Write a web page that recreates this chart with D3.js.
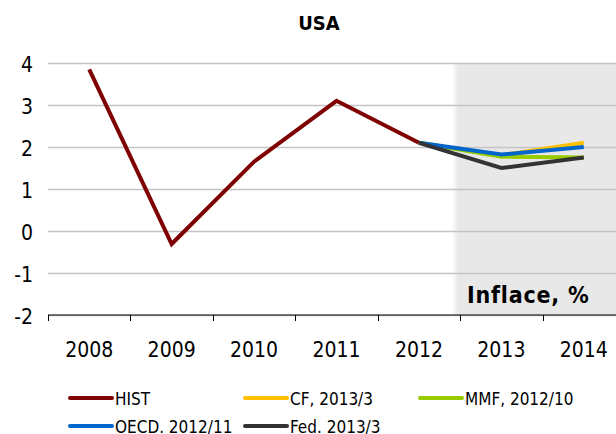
<!DOCTYPE html>
<html>
<head>
<meta charset="utf-8">
<script src="https://cdn.jsdelivr.net/npm/d3@7"></script>
<style>
  body { margin: 0; background: #fff; }
  text { font-family: "DejaVu Sans Condensed", "DejaVu Sans", sans-serif; fill: #000; }
</style>
</head>
<body>
<div id="chart"></div>
<script>
var svgWidth = 616;
var svgHeight = 434;

var years = ["2008", "2009", "2010", "2011", "2012", "2013", "2014"];
var yTicks = [-2, -1, 0, 1, 2, 3, 4];
var shadedYears = ["2013", "2014"];

// series values, null where the series has no value
var hist = [3.85, -0.31, 1.65, 3.1, 2.1, null, null];
var cf   = [null, null, null, null, 2.1, 1.8, 2.1];
var mmf  = [null, null, null, null, 2.1, 1.77, 1.75];
var oecd = [null, null, null, null, 2.1, 1.82, 2.0];
var fed  = [null, null, null, null, 2.1, 1.5, 1.75];

var seriesNames = ["HIST", "CF, 2013/3", "MMF, 2012/10", "OECD. 2012/11", "Fed. 2013/3"];
var seriesColors = ["#7f0000", "#ffc000", "#99cc00", "#0066cc", "#333333"];
var seriesData = [hist, cf, mmf, oecd, fed];

var svg = d3.select("#chart")
  .append("svg")
  .attr("width", svgWidth)
  .attr("height", svgHeight);

// plot runs past the right edge of the picture, like the original
var x = d3.scaleBand()
  .domain(years)
  .range([48, 625]);

var y = d3.scaleLinear()
  .domain([-2, 4])
  .range([315, 63]);

// grey forecast area, with a soft left edge
var defs = svg.append("defs");
var grad = defs.append("linearGradient")
  .attr("id", "fade")
  .attr("x1", 0).attr("x2", 1).attr("y1", 0).attr("y2", 0);
grad.append("stop").attr("offset", 0).attr("stop-color", "#e8e8e8").attr("stop-opacity", 0);
grad.append("stop").attr("offset", 1).attr("stop-color", "#e8e8e8").attr("stop-opacity", 1);

var shadeX = x(shadedYears[0]) - 2;
svg.append("rect")
  .attr("x", shadeX - 6)
  .attr("y", y(4))
  .attr("width", 6)
  .attr("height", y(-2) - y(4))
  .attr("fill", "url(#fade)");
svg.append("rect")
  .attr("x", shadeX)
  .attr("y", y(4))
  .attr("width", x(shadedYears[1]) + x.bandwidth() - shadeX)
  .attr("height", y(-2) - y(4))
  .attr("fill", "#e8e8e8");

// gridlines
svg.append("g")
  .attr("transform", "translate(48,0)")
  .call(d3.axisLeft(y).tickValues(yTicks).tickSize(-(625 - 48)).tickFormat(""))
  .call(g => g.select(".domain").remove())
  .call(g => g.selectAll("line").attr("stroke", "#c4c4c4").attr("stroke-width", 1.5));

// y labels
svg.append("g")
  .attr("transform", "translate(33,0)")
  .call(d3.axisLeft(y).tickValues(yTicks).tickSize(0).tickPadding(0).tickFormat(d => String(d)))
  .call(g => g.select(".domain").remove())
  .call(g => g.selectAll("text")
    .attr("font-size", "21px")
    .attr("font-family", "'DejaVu Sans Condensed', 'DejaVu Sans', sans-serif")
    .attr("fill", "#000")
    .attr("dy", "0.42em"));

// x axis line and ticks at category boundaries
var xAxisG = svg.append("g");
xAxisG.append("line")
  .attr("x1", 48).attr("x2", 616)
  .attr("y1", y(-2)).attr("y2", y(-2))
  .attr("stroke", "#000").attr("stroke-width", 1);
xAxisG.selectAll(".tick")
  .data(years)
  .enter()
  .append("line")
  .attr("x1", d => Math.round(x(d)) + 0.5)
  .attr("x2", d => Math.round(x(d)) + 0.5)
  .attr("y1", y(-2))
  .attr("y2", y(-2) + 6)
  .attr("stroke", "#000");

// x labels
svg.append("g")
  .attr("transform", "translate(0,357)")
  .call(d3.axisBottom(x).tickSize(0).tickPadding(0))
  .call(g => g.select(".domain").remove())
  .call(g => g.selectAll("text")
    .attr("font-size", "21px")
    .attr("font-family", "'DejaVu Sans Condensed', 'DejaVu Sans', sans-serif")
    .attr("fill", "#000")
    .attr("dy", "0"));

// lines
var line = d3.line()
  .defined(d => d.v !== null)
  .x(d => x(d.year) + x.bandwidth() / 2)
  .y(d => y(d.v));

seriesData.forEach(function(vals, i) {
  var pts = years.map((yr, j) => ({ year: yr, v: vals[j] }));
  svg.append("path")
    .datum(pts)
    .attr("d", line)
    .attr("fill", "none")
    .attr("stroke", seriesColors[i])
    .attr("stroke-width", 4)
    .attr("stroke-linejoin", "miter");
});

// title
svg.append("text")
  .attr("x", 319)
  .attr("y", 30)
  .attr("text-anchor", "middle")
  .attr("font-family", "'DejaVu Sans', sans-serif")
  .attr("font-weight", "bold")
  .attr("font-size", "20px")
  .text("USA");

svg.append("text")
  .attr("x", 467)
  .attr("y", 303)
  .attr("font-family", "'DejaVu Sans', sans-serif")
  .attr("font-weight", "bold")
  .attr("font-size", "23px")
  .attr("letter-spacing", "0.8px")
  .text("Inflace, %");

// legend
var legendPos = [[70, 398], [245, 398], [420, 398], [70, 426], [245, 426]];
var legend = svg.selectAll(".legend")
  .data(seriesNames)
  .enter()
  .append("g")
  .attr("transform", (d, i) => `translate(${legendPos[i][0]},${legendPos[i][1]})`);

legend.append("line")
  .attr("x1", 0).attr("x2", 42)
  .attr("y1", 0).attr("y2", 0)
  .attr("stroke", (d, i) => seriesColors[i])
  .attr("stroke-width", 4)
  .attr("stroke-linecap", "round");

legend.append("text")
  .attr("x", 45)
  .attr("y", 7)
  .attr("font-size", "17px")
  .text(d => d);
</script>
</body>
</html>
